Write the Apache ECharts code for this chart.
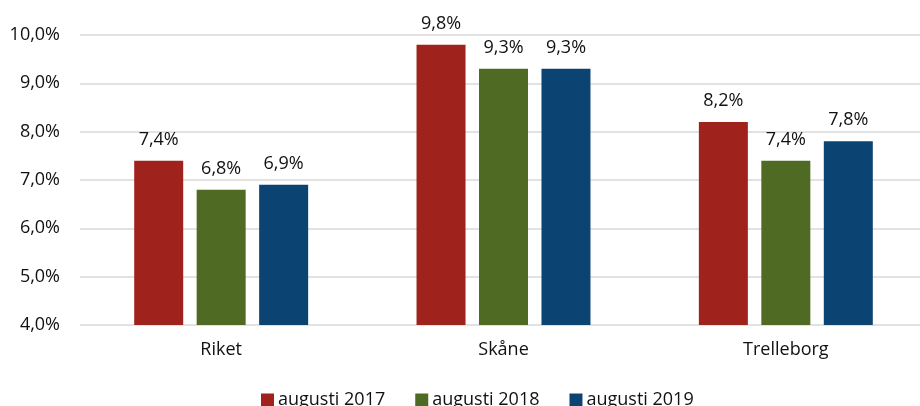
<!DOCTYPE html>
<html>
<head>
<meta charset="utf-8">
<script src="https://cdn.jsdelivr.net/npm/echarts@6/dist/echarts.min.js"></script>
<style>
  html, body { margin: 0; padding: 0; background: #fff; overflow: hidden; }
  #chart { width: 927px; height: 406px; }
</style>
</head>
<body>
<div id="chart"></div>
<script>
const categories = ['Riket', 'Skåne', 'Trelleborg']
const aug2017 = [7.4, 9.8, 8.2]
const aug2018 = [6.8, 9.3, 7.4]
const aug2019 = [6.9, 9.3, 7.8]
const seriesNames = ['augusti 2017', 'augusti 2018', 'augusti 2019']
const colors = ['#A0221C', '#4F6B23', '#0B4473']

const fmt = v => v.toFixed(1).replace('.', ',') + '%'
const font = 'Open Sans'

const makeSeries = (name, data, color) => ({
  name: name,
  type: 'bar',
  data: data,
  barWidth: 49,
  barGap: '27.5%',
  itemStyle: { color: color },
  label: {
    show: true,
    position: 'top',
    distance: 12,
    color: '#111',
    fontFamily: font,
    fontSize: 18,
    formatter: p => fmt(p.value)
  }
})

const option = {
  animation: false,
  grid: { left: 80, right: 0, top: 35, height: 290 },
  legend: {
    left: 256,
    top: 386,
    itemWidth: 13,
    itemHeight: 13,
    itemGap: 30,
    icon: 'rect',
    textStyle: { fontFamily: font, fontSize: 18, color: '#111', padding: [0, 0, 0, -1] },
    data: seriesNames
  },
  xAxis: {
    type: 'category',
    data: categories,
    axisLine: { show: false },
    axisTick: { show: false },
    axisLabel: { fontFamily: font, fontSize: 18, color: '#111', margin: 16 }
  },
  yAxis: {
    type: 'value',
    min: 4,
    max: 10,
    interval: 1,
    axisLine: { show: false },
    axisTick: { show: false },
    splitLine: { lineStyle: { color: '#d9d9d9', width: 1.5 } },
    axisLabel: { fontFamily: font, fontSize: 18, color: '#111', margin: 20, formatter: v => fmt(v) }
  },
  series: [
    makeSeries(seriesNames[0], aug2017, colors[0]),
    makeSeries(seriesNames[1], aug2018, colors[1]),
    makeSeries(seriesNames[2], aug2019, colors[2])
  ]
}

const chart = echarts.init(document.getElementById('chart'))
chart.setOption(option)
window.addEventListener('resize', () => chart.resize())
</script>
</body>
</html>
